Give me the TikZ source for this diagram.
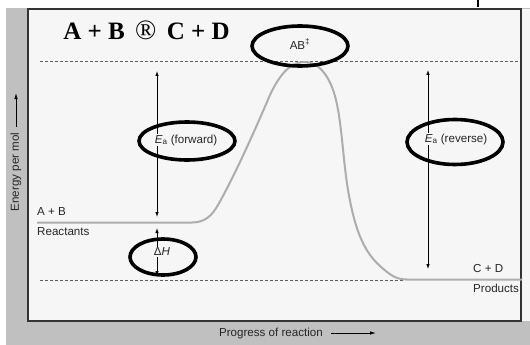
\documentclass[tikz,border=0pt]{standalone}
\usepackage{fontspec}
\setmainfont{Liberation Serif}
\setsansfont{Liberation Sans}
\usepackage{xcolor}
\usepackage{tikz}
\usetikzlibrary{arrows.meta,shapes.geometric}

\definecolor{framegray}{HTML}{C0C0C0}
\definecolor{paper}{HTML}{F6F6F6}
\definecolor{curvegray}{HTML}{ADADAD}
\definecolor{dashgray}{HTML}{5E5E5E}

\begin{document}
\begin{tikzpicture}[x=1pt,y=-1pt,
  lbl/.style={font=\sffamily\fontsize{11.6}{13}\selectfont,text=black!85,inner sep=1pt},
  labbox/.style={lbl,fill=paper},
  ring/.style={ellipse,draw,line width=3.6pt,inner sep=0pt},
  gap/.style={{Latex[length=5pt,width=3.5pt]}-{Latex[length=5pt,width=3.5pt]},line width=0.8pt},
  axarrow/.style={-{Latex[length=6pt,width=3.5pt]},line width=0.8pt},
  guide/.style={dash pattern=on 3pt off 2pt,line width=1pt,dashgray},
  enpath/.style={line width=2pt,curvegray,line join=round}]
  \useasboundingbox (0,0) rectangle (530,345);
  % frame and plot area
  \fill[framegray] (6,8) rectangle (530,345);
  \fill[paper] (28,9) rectangle (530,321);
  \draw[black!80,line width=1.2pt] (28,9) rectangle (521,321);
  \draw[line width=1.5pt] (478,0) -- (478,7.5);

  % title
  \node[font=\bfseries\fontsize{25}{28}\selectfont] (title) at (146.5,30)
    {A + B\, {\mdseries\fontsize{28}{30}\selectfont\textregistered}\, C + D};

  % energy levels
  \draw[guide] (40,62) -- (520,62);
  \draw[guide] (40,280) -- (405,280);
  \draw[enpath] (37,222.5) -- (192,222.5)
    .. controls (205,222.5) and (212,215.5) .. (218,205)
    .. controls (235,175) and (255,130) .. (270,95)
    .. controls (283,67) and (295,62) .. (305,62)
    .. controls (318,62) and (330,75) .. (336,100)
    .. controls (342,125) and (343,160) .. (348,190)
    .. controls (354,225) and (362,250) .. (380,266)
    .. controls (390,275) and (396,279.5) .. (407,279.5) -- (522,279.5);

  % level labels
  \node[lbl,anchor=west] (reac) at (36,212) {A + B};
  \node[lbl,anchor=west] (reacname) at (36,232) {Reactants};
  \node[lbl,anchor=west] (prod) at (472,269) {C + D};
  \node[lbl,anchor=west] (prodname) at (472,288) {Products};

  % energy gaps
  \coordinate (topF) at (157,62);
  \coordinate (reacF) at (157,222);
  \coordinate (prodF) at (157,280);
  \coordinate (topR) at (428,62);
  \coordinate (prodR) at (428,280);
  \draw[gap,shorten <=9pt,shorten >=5pt] (topF) -- (reacF);
  \draw[gap,shorten <=6pt,shorten >=4pt] (reacF) -- (prodF);
  \draw[gap,shorten <=8pt,shorten >=11pt] (topR) -- (prodR);

  \node[labbox] (tsl) at (300,44) {AB\textsuperscript{‡}};
  \node[labbox] (efl) at (186,140) {\textit{E}\textsubscript{a} (forward)};
  \node[labbox] (erl) at (456,139) {\textit{E}\textsubscript{a} (reverse)};
  \node[labbox] (dhl) at (162,252) {Δ\textit{H}};

  % circled labels
  \node[ring,minimum width=96,minimum height=40] (tsring) at (300,46) {};
  \node[ring,minimum width=96,minimum height=38] (efring) at (187,141) {};
  \node[ring,minimum width=96,minimum height=45] (erring) at (455,142) {};
  \node[ring,minimum width=66,minimum height=36] (dhring) at (163,257) {};

  % axes
  \node[lbl,rotate=90] (ylab) at (16,172) {Energy per mol};
  \coordinate (ytip) at (16,93);
  \draw[axarrow,shorten <=4pt] (ylab.east) -- (ytip);
  \node[lbl] (xlab) at (271,333) {Progress of reaction};
  \coordinate (xtip) at (376,333);
  \draw[axarrow,shorten <=7pt] (xlab.east) -- (xtip);
\end{tikzpicture}
\end{document}
